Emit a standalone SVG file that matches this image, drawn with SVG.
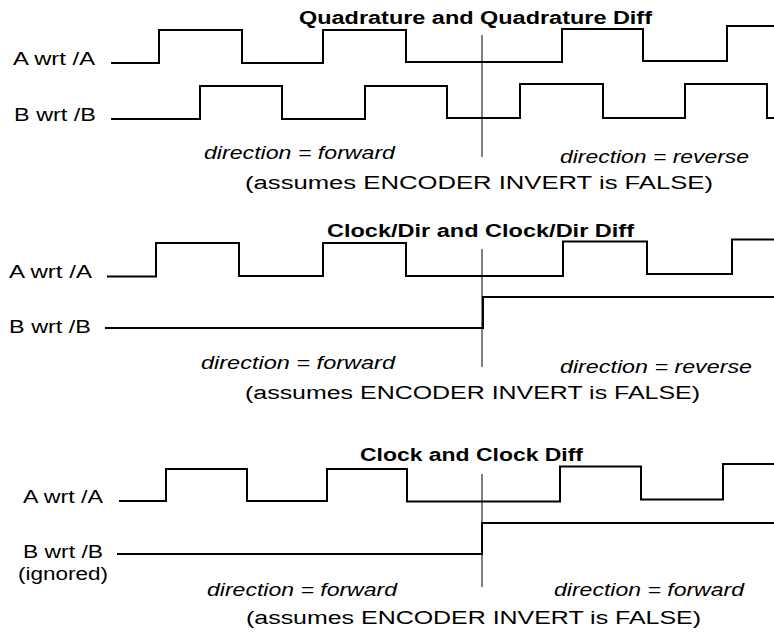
<svg xmlns="http://www.w3.org/2000/svg" width="774" height="632" viewBox="0 0 774 632">
<style>
text{font-family:"Liberation Sans",Arial,sans-serif;font-size:18px;fill:#000}
.t{font-weight:bold}
.i{font-style:italic}
.w{fill:none;stroke:#000;stroke-width:2;stroke-linejoin:miter}
.v{fill:none;stroke:#000;stroke-width:1}
</style>
<rect width="774" height="632" fill="#fff"/>
<g id="quadrature">
<text class="t" x="299" y="24" textLength="353" lengthAdjust="spacingAndGlyphs">Quadrature and Quadrature Diff</text>
<text x="13" y="65" textLength="82" lengthAdjust="spacingAndGlyphs">A wrt /A</text>
<text x="14" y="121" textLength="82" lengthAdjust="spacingAndGlyphs">B wrt /B</text>
<text class="i" x="204" y="159" textLength="191" lengthAdjust="spacingAndGlyphs">direction = forward</text>
<text class="i" x="560" y="163" textLength="189" lengthAdjust="spacingAndGlyphs">direction = reverse</text>
<text x="245" y="189" textLength="468" lengthAdjust="spacingAndGlyphs">(assumes ENCODER INVERT is FALSE)</text>
</g>
<g id="clockdir">
<text class="t" x="327" y="237" textLength="307" lengthAdjust="spacingAndGlyphs">Clock/Dir and Clock/Dir Diff</text>
<text x="9" y="278" textLength="83" lengthAdjust="spacingAndGlyphs">A wrt /A</text>
<text x="9" y="333" textLength="82" lengthAdjust="spacingAndGlyphs">B wrt /B</text>
<text class="i" x="201" y="369" textLength="194" lengthAdjust="spacingAndGlyphs">direction = forward</text>
<text class="i" x="560" y="373" textLength="192" lengthAdjust="spacingAndGlyphs">direction = reverse</text>
<text x="245" y="399" textLength="455" lengthAdjust="spacingAndGlyphs">(assumes ENCODER INVERT is FALSE)</text>
</g>
<g id="clock">
<text class="t" x="360" y="461" textLength="223" lengthAdjust="spacingAndGlyphs">Clock and Clock Diff</text>
<text x="23" y="503" textLength="80" lengthAdjust="spacingAndGlyphs">A wrt /A</text>
<text x="23" y="558" textLength="80" lengthAdjust="spacingAndGlyphs">B wrt /B</text>
<text x="18" y="580" textLength="90" lengthAdjust="spacingAndGlyphs">(ignored)</text>
<text class="i" x="207" y="596" textLength="190" lengthAdjust="spacingAndGlyphs">direction = forward</text>
<text class="i" x="554" y="596" textLength="190" lengthAdjust="spacingAndGlyphs">direction = forward</text>
<text x="246" y="624" textLength="455" lengthAdjust="spacingAndGlyphs">(assumes ENCODER INVERT is FALSE)</text>
</g>
<g id="connectors">
<polyline class="w" points="111,63 159,63 159,30 242,30 242,63 323,63 323,30 406,30 406,62 562,62 562,29 643,29 643,61 727,61 727,26 774,26"/>
<polyline class="w" points="111,119 200,119 200,86 282,86 282,119 365,119 365,86 447,86 447,118 520,118 520,84 603,84 603,118 685,118 685,84 767,84 767,118 774,118"/>
<line class="v" x1="482" y1="35" x2="482" y2="157"/>
<polyline class="w" points="107,276.5 156,276.5 156,243 239,243 239,276 323,276 323,243 406,243 406,276 563,276 563,241.5 647,241.5 647,274 732,274 732,239.5 774,239.5"/>
<polyline class="w" points="105,328 483,328 483,297 774,297"/>
<line class="v" x1="482" y1="249" x2="482" y2="367"/>
<polyline class="w" points="119,501 166,501 166,469 247,469 247,501 327,501 327,469 407,469 407,501.5 560,501.5 560,466.5 641,466.5 641,499.5 723,499.5 723,464 774,464"/>
<polyline class="w" points="117,554 482,554 482,523 774,523"/>
<line class="v" x1="482" y1="474" x2="482" y2="587"/>
</g>
</svg>
